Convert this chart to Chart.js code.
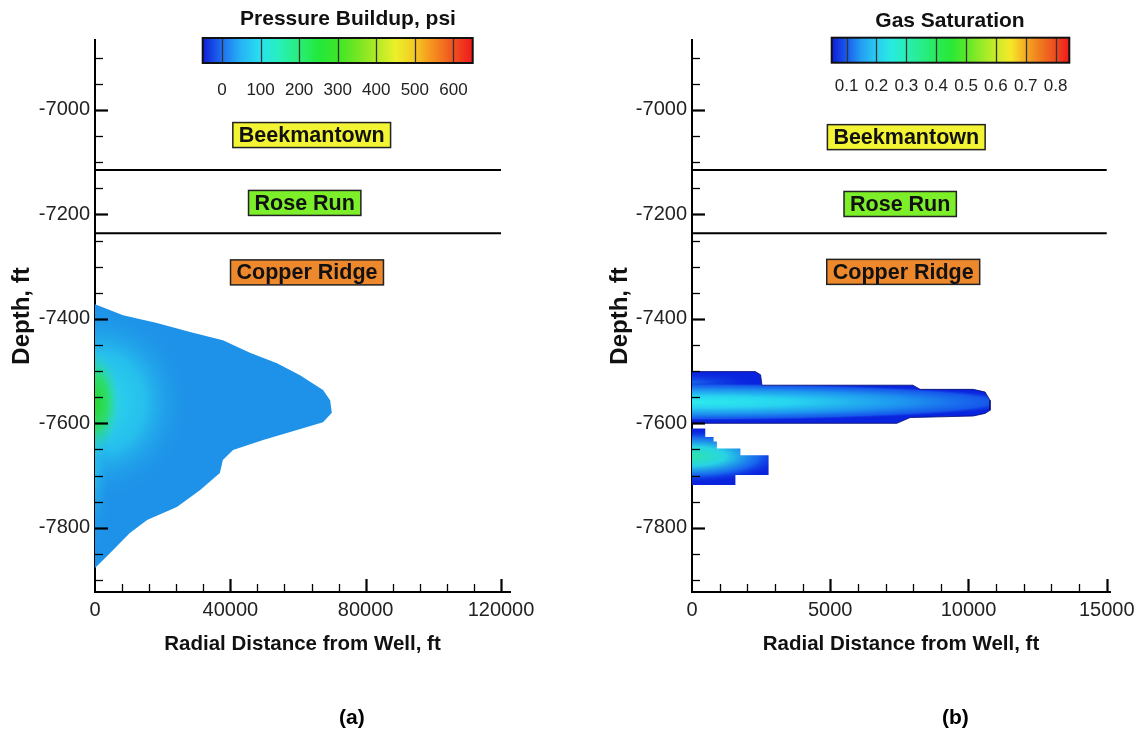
<!DOCTYPE html>
<html><head><meta charset="utf-8">
<script src="https://cdn.jsdelivr.net/npm/chart.js@4.4.1/dist/chart.umd.min.js"></script>
<style>
html,body{margin:0;padding:0;background:#fff;}
#wrap{position:relative;width:1141px;height:730px;overflow:hidden;background:#fff;}
#ca{position:absolute;left:0;top:0;}
#cb{position:absolute;left:570px;top:0;}
.cap{position:absolute;top:705px;line-height:24px;font:bold 21px "Liberation Sans",Arial,sans-serif;color:#000;}
</style></head><body>
<div id="wrap">
<canvas id="ca" width="570" height="730"></canvas>
<canvas id="cb" width="571" height="730"></canvas>
<div class="cap" style="left:339px">(a)</div>
<div class="cap" style="left:942px">(b)</div>
</div>
<script>
// ---------- data ----------
const pressureX = [0, 8300, 18300, 28100, 37800, 45800, 53800, 60600, 67400, 69500, 70000, 67400, 59700, 49700, 40800, 37800, 36900, 31000, 24200, 15400, 10300, 4400, 0];
const pressureDepth = [-7372, -7393, -7408, -7425, -7441, -7465, -7485, -7508, -7536, -7556, -7580, -7598, -7613, -7632, -7651, -7670, -7695, -7728, -7760, -7785, -7810, -7849, -7877];

const gasUpperX = [0, 2290, 2480, 2530, 7990, 8250, 10170, 10600, 10780, 10780, 10600, 10170, 7890, 7410, 0];
const gasUpperDepth = [-7501, -7501, -7507, -7527, -7527, -7535, -7535, -7540, -7556, -7575, -7581, -7586, -7589, -7600, -7600];

const gasLowerX = [0, 480, 480, 780, 780, 900, 900, 1750, 1750, 2770, 2770, 1570, 1570, 0];
const gasLowerDepth = [-7610, -7610, -7626, -7626, -7635, -7635, -7648, -7648, -7661, -7661, -7699, -7699, -7718, -7718];

const formationNames = ['Beekmantown', 'Rose Run', 'Copper Ridge'];
const formationBoundaries = [-7115, -7236];

const depthTicks = [-7000, -7200, -7400, -7600, -7800];
const distTicksA = [0, 40000, 80000, 120000];
const distTicksB = [0, 5000, 10000, 15000];
const pressureBarTicks = [0, 100, 200, 300, 400, 500, 600];
const saturationBarTicks = [0.1, 0.2, 0.3, 0.4, 0.5, 0.6, 0.7, 0.8];

// ---------- styles / layout ----------
const FONT = '"Liberation Sans", Arial, Helvetica, sans-serif';
const DEPTH_MIN = -7923, DEPTH_MAX = -6866;
const formationColors = ['rgb(242,244,52)', 'rgb(125,238,42)', 'rgb(238,136,44)'];
const decoCfg = {};

function toPts(xs, ys) { return xs.map((x, i) => ({x: x, y: ys[i]})); }

function blob(g, cx, cy, rx, ry, stops) {
  g.save(); g.translate(cx, cy); g.scale(rx, ry);
  const gr = g.createRadialGradient(0, 0, 0, 0, 0, 1);
  stops.forEach(s => gr.addColorStop(s[0], s[1]));
  g.fillStyle = gr; g.beginPath(); g.arc(0, 0, 1, 0, Math.PI * 2); g.fill(); g.restore();
}
function makePattern(chart, painter) {
  const off = document.createElement('canvas');
  off.width = chart.canvas.width; off.height = chart.canvas.height;
  const g = off.getContext('2d');
  painter(g, chart.scales.x, chart.scales.y, off.width, off.height);
  return chart.ctx.createPattern(off, 'no-repeat');
}
function pressurePainter(g, xs, ys, w, h) {
  const x0 = xs.getPixelForValue(0), yc = ys.getPixelForValue(-7560);
  g.fillStyle = 'rgb(30,146,232)'; g.fillRect(0, 0, w, h);
  blob(g, x0 + 4, yc, 92, 98, [[0, 'rgba(45,218,235,1)'], [0.5, 'rgba(40,202,238,0.8)'], [1, 'rgba(30,146,232,0)']]);
  blob(g, x0, ys.getPixelForValue(-7700), 16, 80, [[0, 'rgba(45,205,235,0.6)'], [1, 'rgba(30,146,232,0)']]);
  blob(g, x0, yc, 26, 52, [[0, 'rgba(40,215,40,1)'], [0.5, 'rgba(45,222,90,0.85)'], [1, 'rgba(45,215,200,0)']]);
}
function gasPainter(g, xs, ys, w, h) {
  const x0 = xs.getPixelForValue(0);
  g.fillStyle = 'rgb(10,35,222)'; g.fillRect(0, 0, w, h);
  blob(g, x0, ys.getPixelForValue(-7522), 70, 12, [[0, 'rgba(30,130,240,0.7)'], [1, 'rgba(10,35,222,0)']]);
  blob(g, x0, ys.getPixelForValue(-7559), 340, 19, [[0, 'rgba(45,235,235,1)'], [0.3, 'rgba(40,212,240,1)'], [0.65, 'rgba(30,150,240,0.95)'], [0.88, 'rgba(25,100,238,0.8)'], [1, 'rgba(10,35,222,0)']]);
  blob(g, x0, ys.getPixelForValue(-7663), 95, 27, [[0, 'rgba(45,228,170,1)'], [0.35, 'rgba(40,212,228,1)'], [0.7, 'rgba(25,110,240,0.9)'], [1, 'rgba(10,35,222,0)']]);
}

const deco = {
  id: 'deco',
  afterDraw(chart) {
    const o = decoCfg[chart.canvas.id];
    if (!o) return;
    const ctx = chart.ctx, xs = chart.scales.x, ys = chart.scales.y, a = chart.chartArea;
    ctx.save();
    ctx.strokeStyle = '#000';
    // y ticks (inward)
    for (let v = -6900; v >= ys.min; v -= 50) {
      if (v > ys.max) continue;
      const major = depthTicks.includes(v);
      const py = Math.round(ys.getPixelForValue(v)) + 0.5;
      ctx.lineWidth = major ? 2.2 : 1.3;
      ctx.beginPath(); ctx.moveTo(a.left, py); ctx.lineTo(a.left + (major ? 13 : 8), py); ctx.stroke();
    }
    // x ticks (inward)
    const xLast = o.xTicks[o.xTicks.length - 1];
    for (let v = o.xMinor; v <= xLast; v += o.xMinor) {
      const major = o.xTicks.includes(v);
      const px = Math.round(xs.getPixelForValue(v)) + 0.5;
      ctx.lineWidth = major ? 2.2 : 1.3;
      ctx.beginPath(); ctx.moveTo(px, a.bottom); ctx.lineTo(px, a.bottom - (major ? 13 : 8)); ctx.stroke();
    }
    // formation labels
    o.labels.forEach((L, i) => {
      const cx = xs.getPixelForValue(L.x), cy = ys.getPixelForValue(L.y);
      ctx.font = 'bold 21.5px ' + FONT;
      const tw = ctx.measureText(formationNames[i]).width;
      const bw = tw + 12, bh = 25;
      ctx.fillStyle = formationColors[i];
      ctx.fillRect(cx - bw / 2, cy - bh / 2, bw, bh);
      ctx.lineWidth = 1.5; ctx.strokeStyle = '#222';
      ctx.strokeRect(cx - bw / 2, cy - bh / 2, bw, bh);
      ctx.fillStyle = '#111'; ctx.textAlign = 'center'; ctx.textBaseline = 'middle';
      ctx.fillText(formationNames[i], cx, cy + 1);
    });
    // colorbar
    const cb = o.colorbar;
    const pxv = v => cb.left + (v - cb.vmin) / (cb.vmax - cb.vmin) * cb.width;
    const gr = ctx.createLinearGradient(cb.left, 0, cb.left + cb.width, 0);
    cb.stops.forEach(s => gr.addColorStop(Math.min(1, Math.max(0, (s[0] - cb.vmin) / (cb.vmax - cb.vmin))), s[1]));
    ctx.fillStyle = gr; ctx.fillRect(cb.left, cb.top, cb.width, cb.height);
    ctx.strokeStyle = '#333'; ctx.lineWidth = 1.3;
    cb.ticks.forEach(t => { const p = Math.round(pxv(t)) + 0.5; ctx.beginPath(); ctx.moveTo(p, cb.top); ctx.lineTo(p, cb.top + cb.height); ctx.stroke(); });
    ctx.strokeStyle = '#111'; ctx.lineWidth = 2;
    ctx.strokeRect(cb.left, cb.top, cb.width, cb.height);
    ctx.fillStyle = '#222'; ctx.font = '17px ' + FONT; ctx.textAlign = 'center'; ctx.textBaseline = 'middle';
    cb.ticks.forEach(t => ctx.fillText(cb.fmt(t), pxv(t), cb.labelY));
    ctx.fillStyle = '#111'; ctx.font = 'bold 21px ' + FONT;
    ctx.fillText(cb.title, cb.titleX, cb.titleY);
    ctx.restore();
  }
};

function buildChart(id, p) {
  decoCfg[id] = p.deco;
  p.deco.xTicks = p.xTicks;
  const datasets = [];
  formationBoundaries.forEach(d => datasets.push({
    data: [{x: 0, y: d}, {x: p.xTicks[p.xTicks.length - 1], y: d}],
    showLine: true, borderColor: '#000', borderWidth: 2, pointRadius: 0, fill: false
  }));
  p.plumes.forEach(pl => datasets.push({
    data: toPts(pl.x, pl.y), showLine: true, fill: 'shape', pointRadius: 0,
    borderWidth: pl.border ? 1 : 0, borderColor: pl.border || 'rgba(0,0,0,0)',
    backgroundColor: (c) => (c.chart.chartArea ? makePattern(c.chart, pl.painter) : pl.fallback)
  }));
  return new Chart(document.getElementById(id), {
    type: 'scatter',
    data: {datasets: datasets},
    options: {
      responsive: false, animation: false, devicePixelRatio: 1,
      layout: {padding: p.padding},
      events: [],
      plugins: {legend: {display: false}, tooltip: {enabled: false}},
      elements: {point: {radius: 0, hoverRadius: 0}, line: {tension: 0}},
      scales: {
        x: {
          type: 'linear', min: 0, max: p.xMax, z: 1,
          afterFit: s => { s.height = 65; },
          afterBuildTicks: s => { s.ticks = p.xTicks.map(v => ({value: v})); },
          grid: {display: false, drawTicks: false},
          border: {display: true, color: '#000', width: 2},
          ticks: {font: {family: FONT, size: 20}, color: '#222', padding: 6, maxRotation: 0, autoSkip: false, callback: v => String(v)},
          title: {display: true, text: 'Radial Distance from Well, ft', font: {family: FONT, size: 20.5, weight: 'bold'}, color: '#111', padding: {top: 0, bottom: 0}}
        },
        y: {
          type: 'linear', min: DEPTH_MIN, max: DEPTH_MAX, z: 1,
          afterFit: s => { s.width = p.yAxisWidth; },
          afterBuildTicks: s => { s.ticks = depthTicks.map(v => ({value: v})); },
          grid: {display: false, drawTicks: false},
          border: {display: true, color: '#000', width: 2},
          ticks: {font: {family: FONT, size: 20}, color: '#222', padding: 5, autoSkip: false, callback: v => String(v)},
          title: {display: true, text: 'Depth, ft', font: {family: FONT, size: 24, weight: 'bold'}, color: '#111', padding: {top: p.yTitlePad, bottom: 0}}
        }
      }
    },
    plugins: [deco]
  });
}

buildChart('ca', {
  xMax: 122660, xTicks: distTicksA, yAxisWidth: 95, yTitlePad: 8,
  padding: {left: 0, right: 60, top: 40, bottom: 73},
  plumes: [{x: pressureX, y: pressureDepth, painter: pressurePainter, fallback: 'rgb(30,146,232)'}],
  deco: {
    xMinor: 8000,
    labels: [{x: 64050, y: -7048}, {x: 61980, y: -7178}, {x: 62660, y: -7311}],
    colorbar: {
      left: 202.7, top: 38, width: 270, height: 25, vmin: -50, vmax: 650,
      ticks: pressureBarTicks, fmt: v => String(v),
      title: 'Pressure Buildup, psi', titleX: 348, titleY: 19, labelY: 90,
      stops: [[-50, 'rgb(15,30,215)'], [0, 'rgb(30,110,240)'], [50, 'rgb(38,180,244)'], [100, 'rgb(40,225,240)'], [150, 'rgb(40,240,185)'], [200, 'rgb(40,238,120)'], [250, 'rgb(35,232,60)'], [300, 'rgb(60,230,40)'], [350, 'rgb(115,230,35)'], [400, 'rgb(175,234,38)'], [450, 'rgb(235,240,40)'], [500, 'rgb(245,200,35)'], [550, 'rgb(245,140,30)'], [600, 'rgb(240,80,30)'], [650, 'rgb(240,25,30)']]
    }
  }
});

buildChart('cb', {
  xMax: 15119, xTicks: distTicksB, yAxisWidth: 122, yTitlePad: 36,
  padding: {left: 0, right: 31, top: 40, bottom: 73},
  plumes: [
    {x: gasUpperX, y: gasUpperDepth, painter: gasPainter, fallback: 'rgb(10,35,222)', border: 'rgba(0,10,110,0.8)'},
    {x: gasLowerX, y: gasLowerDepth, painter: gasPainter, fallback: 'rgb(10,35,222)'}
  ],
  deco: {
    xMinor: 1000,
    labels: [{x: 7750, y: -7052}, {x: 7530, y: -7180}, {x: 7640, y: -7310}],
    colorbar: {
      left: 261.7, top: 37.7, width: 237.6, height: 25, vmin: 0.05, vmax: 0.846,
      ticks: saturationBarTicks, fmt: v => v.toFixed(1),
      title: 'Gas Saturation', titleX: 380, titleY: 21, labelY: 86,
      stops: [[0.05, 'rgb(15,30,215)'], [0.1, 'rgb(25,90,238)'], [0.15, 'rgb(35,160,242)'], [0.2, 'rgb(40,205,242)'], [0.25, 'rgb(40,235,225)'], [0.3, 'rgb(40,238,180)'], [0.35, 'rgb(40,236,140)'], [0.4, 'rgb(40,235,90)'], [0.45, 'rgb(40,232,55)'], [0.5, 'rgb(90,232,40)'], [0.55, 'rgb(150,234,40)'], [0.6, 'rgb(200,236,40)'], [0.65, 'rgb(245,232,40)'], [0.7, 'rgb(245,170,35)'], [0.75, 'rgb(240,120,30)'], [0.8, 'rgb(238,75,30)'], [0.846, 'rgb(240,25,30)']]
    }
  }
});
</script>
</body></html>
